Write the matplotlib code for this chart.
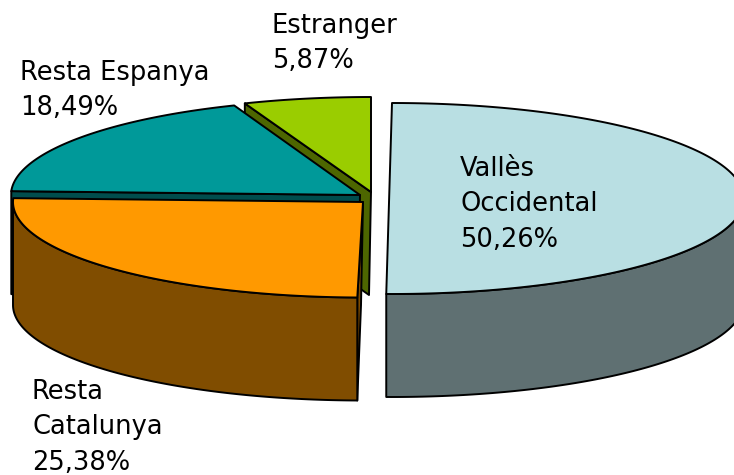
import numpy as np
import matplotlib
matplotlib.use("Agg")
import matplotlib.pyplot as plt
from matplotlib.patches import Polygon

labels = ["Vallès\nOccidental", "Resta\nCatalunya", "Resta Espanya", "Estranger"]
values = [50.26, 25.38, 18.49, 5.87]

fill_colors = ["#B9DFE3", "#FF9900", "#009999", "#9ACD00"]
wall_colors = ["#5F7072", "#804D00", "#004D4D", "#4D6600"]

# per slice: center x, center y, half width, half height (pixels)
centers = [(392, 198.5, 352, 95.5), (363, 202, 350, 95.5), (360, 195, 349, 96), (371, 192, 350, 95)]
depth = 103
# x and first baseline of each label
label_pos = [(460, 176), (32, 399), (20, 80), (272, 33)]
line_pitch = 35.3

fig = plt.figure(figsize=(7.34, 4.75), dpi=100)
ax = fig.add_axes([0, 0, 1, 1])
ax.set_xlim(0, 734)
ax.set_ylim(475, 0)
ax.axis("off")

# angles clockwise from 12 o'clock, first slice starts at the top
ends = np.cumsum(values) * 3.6
starts = ends - np.array(values) * 3.6


def arc(i, t0, t1, n=200):
    cx, cy, a, b = centers[i]
    t = np.radians(np.linspace(t0, t1, n))
    return np.column_stack([cx + a * np.sin(t), cy - b * np.cos(t)])


def add_poly(pts, color, z):
    ax.add_patch(Polygon(pts, closed=True, facecolor=color, edgecolor="black",
                         linewidth=1.4, joinstyle="round", zorder=z))


def draw_slice(i, z):
    top = arc(i, starts[i], ends[i])
    apex = np.array(centers[i][:2], dtype=float)
    if ends[i] - starts[i] >= 180:
        apex = (top[0] + top[-1]) / 2
    else:
        # cut face on the starting side
        edge = top[0]
        add_poly([apex, edge, edge + [0, depth], apex + [-2, depth]], wall_colors[i], z)
    # outer wall, only the front half of the ellipse shows
    t0, t1 = max(starts[i], 90), min(ends[i], 270)
    if t0 < t1:
        front = arc(i, t0, t1)
        add_poly(np.vstack([front, front[::-1] + [0, depth]]), wall_colors[i], z + 1)
    add_poly(np.vstack([[apex], top]), fill_colors[i], z + 2)


draw_slice(3, 1)
draw_slice(2, 5)
draw_slice(1, 9)
draw_slice(0, 13)

for i in range(4):
    text = f"{labels[i]}\n{values[i]:.2f}%".replace(".", ",")
    for j, line in enumerate(text.split("\n")):
        ax.text(label_pos[i][0], label_pos[i][1] + j * line_pitch, line, fontsize=18.5,
                family="DejaVu Sans", ha="left", va="baseline", zorder=20)

fig.savefig("out.png", dpi=100)
